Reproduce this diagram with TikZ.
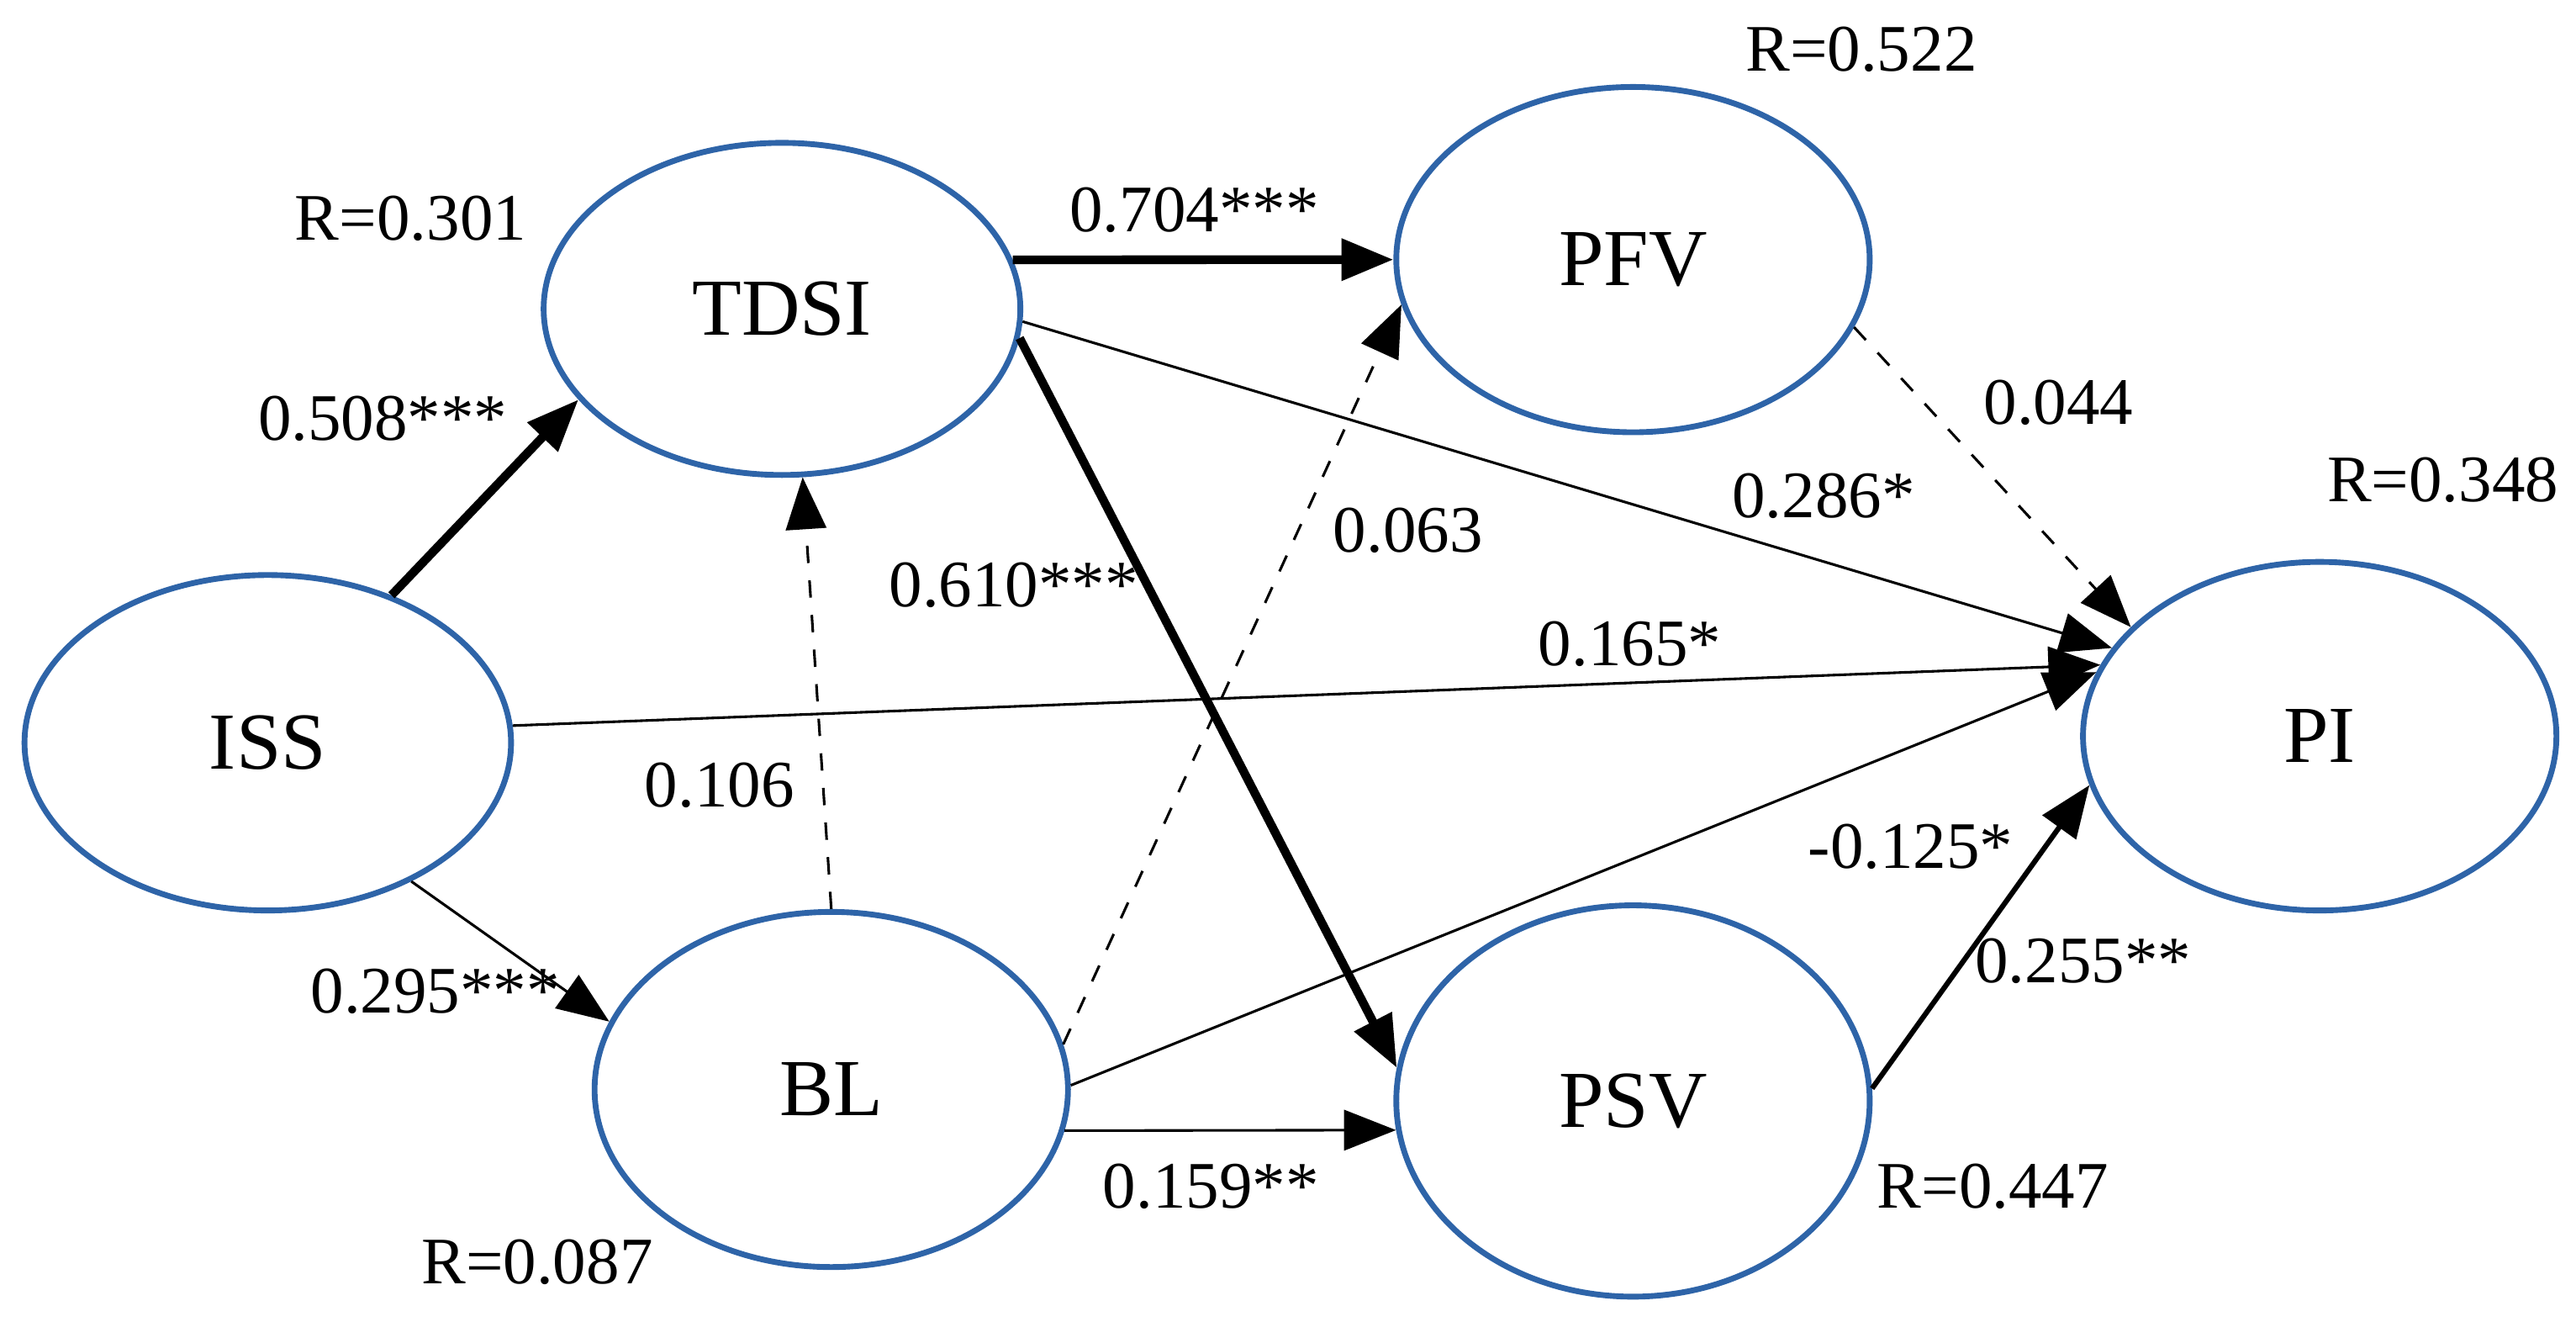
\documentclass[tikz,border=0pt]{standalone}
\usepackage{fontspec}
\setmainfont{Liberation Serif}
\usetikzlibrary{shapes.geometric,arrows.meta}
\definecolor{eb}{RGB}{46,100,168}
\begin{document}
\begin{tikzpicture}[x=0.01cm,y=-0.01cm,
  lat/.style={ellipse,draw=eb,line width=1pt,inner sep=0pt,font=\fontsize{14}{17}\selectfont},
  lab/.style={font=\fontsize{11.5}{14}\selectfont,inner sep=1pt},
  arr/.style={line width=0.45pt,-{Triangle[length=9pt,width=7pt]}},
  thk/.style={line width=1.5pt,-{Triangle[length=9pt,width=7pt]}},
  med/.style={line width=0.9pt,-{Triangle[length=9pt,width=7pt]}},
  dsh/.style={line width=0.45pt,dashed,-{Triangle[length=9pt,width=7pt]}}]
\useasboundingbox (0,0) rectangle (1568,804);
\node[lat,minimum width=2.96cm,minimum height=2.04cm] (iss) at (163,452) {ISS};
\node[lat,minimum width=2.90cm,minimum height=2.02cm] (tdsi) at (476,188) {TDSI};
\node[lat,minimum width=2.88cm,minimum height=2.16cm] (bl) at (506,663) {BL};
\node[lat,minimum width=2.88cm,minimum height=2.10cm] (pfv) at (994,158) {PFV};
\node[lat,minimum width=2.88cm,minimum height=2.38cm] (psv) at (994,670) {PSV};
\node[lat,minimum width=2.88cm,minimum height=2.12cm] (pi) at (1412,448) {PI};

\draw[thk] (iss.50) -- (tdsi.204);
\draw[arr] (iss.-44) -- (bl.163);
\draw[arr] (iss.4) -- (pi.162);
\draw[dsh] (bl.90) -- (tdsi.277);
\draw[thk] (tdsi.12) -- (pfv.180);
\draw[thk] (tdsi.-7) -- (psv.172);
\draw[arr] (tdsi.-3) -- (pi.157);
\draw[dsh] (bl.11) -- (pfv.191);
\draw[arr] (bl.1) -- (pi.164);
\draw[arr] (bl.-10) -- (psv.187);
\draw[dsh] (pfv.-17) -- (pi.150);
\draw[med] (psv.3) -- (pi.192);

\node[lab] (r1) at (250,133) {R=0.301};
\node[lab] (r2) at (1133,30) {R=0.522};
\node[lab] (r3) at (1487,292) {R=0.348};
\node[lab] (r4) at (327,768) {R=0.087};
\node[lab] (r5) at (1213,722) {R=0.447};
\node[lab] (l1) at (233,255) {0.508***};
\node[lab] (l2) at (265,603) {0.295***};
\node[lab] (l3) at (438,478) {0.106};
\node[lab] (l4) at (727,128) {0.704***};
\node[lab] (l5) at (617,356) {0.610***};
\node[lab] (l6) at (857,323) {0.063};
\node[lab] (l7) at (1110,302) {0.286*};
\node[lab] (l8) at (1253,245) {0.044};
\node[lab] (l9) at (992,392) {0.165*};
\node[lab] (l10) at (1163,515) {-0.125*};
\node[lab] (l11) at (1268,585) {0.255**};
\node[lab] (l12) at (737,722) {0.159**};
\end{tikzpicture}
\end{document}
